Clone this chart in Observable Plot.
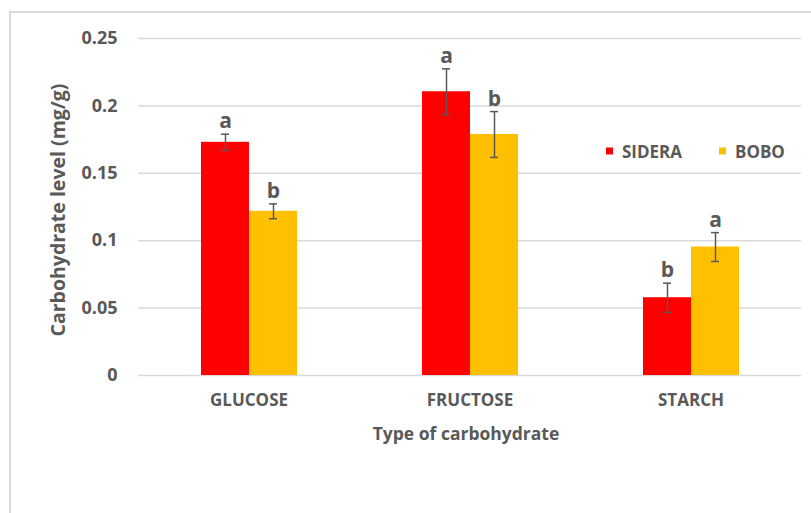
<!DOCTYPE html>
<html><head><meta charset="utf-8">
<script src="https://cdn.jsdelivr.net/npm/d3@7"></script>
<script src="https://cdn.jsdelivr.net/npm/@observablehq/plot@0.6"></script>
<style>
body{margin:0;background:#fff;font-family:"Open Sans",sans-serif;}
#wrap{position:relative;width:811px;height:513px;overflow:hidden;background:#fff;}
#frame{position:absolute;left:9px;top:11px;width:830px;height:530px;border-left:2px solid #d9d9d9;border-top:2px solid #d9d9d9;}
#chart{position:absolute;left:0;top:0;}
.t{position:absolute;color:#595959;font-weight:bold;white-space:nowrap;}
#ytitle{left:57px;top:210px;font-size:19.5px;transform:translate(-50%,-50%) rotate(-90deg);}
#xtitle{left:466px;top:433px;font-size:17.5px;transform:translate(-50%,-50%);}
.lg{position:absolute;top:151px;transform:translateY(-50%);display:flex;align-items:center;font-size:17px;font-weight:bold;color:#595959;}
.sw{width:7px;height:7px;margin-right:9px;}
</style></head>
<body>
<div id="wrap">
  <div id="frame"></div>
  <div id="chart"></div>
  <div class="t" id="ytitle">Carbohydrate level (mg/g)</div>
  <div class="t" id="xtitle">Type of carbohydrate</div>
  <div id="legend"></div>
</div>
<script>
const categories = ["GLUCOSE", "FRUCTOSE", "STARCH"];
const series = ["SIDERA", "BOBO"];
const colors = ["#FF0000", "#FFC000"];
const sideraMean = [0.173, 0.2105, 0.0577];
const sideraErr = [0.006, 0.017, 0.0108];
const boboMean = [0.1218, 0.1788, 0.0953];
const boboErr = [0.0055, 0.017, 0.0107];
const sideraLetters = ["a", "a", "b"];
const boboLetters = ["b", "b", "a"];
const yTicks = [0, 0.05, 0.1, 0.15, 0.2, 0.25];
const yTickLabels = ["0", "0.05", "0.1", "0.15", "0.2", "0.25"];
const legendLeft = [606, 719];

const rows = [];
categories.forEach((c, i) => {
  rows.push({cat: c, series: "SIDERA", mean: sideraMean[i], lo: sideraMean[i] - sideraErr[i], hi: sideraMean[i] + sideraErr[i], letter: sideraLetters[i]});
  rows.push({cat: c, series: "BOBO", mean: boboMean[i], lo: boboMean[i] - boboErr[i], hi: boboMean[i] + boboErr[i], letter: boboLetters[i]});
});

const chart = Plot.plot({
  width: 811, height: 513,
  marginLeft: 137, marginRight: 9, marginTop: 38, marginBottom: 138,
  style: {fontFamily: "'Open Sans', sans-serif", fontSize: "17px", fontWeight: "bold", color: "#595959", background: "transparent"},
  fx: {domain: categories, padding: 0, label: null, axis: "bottom", tickSize: 0, tickPadding: 18},
  x: {domain: series, paddingInner: 0, paddingOuter: 1.285, axis: null},
  y: {domain: [0, 0.25], ticks: yTicks, tickFormat: d => yTickLabels[yTicks.indexOf(d)], tickSize: 0, tickPadding: 21, label: null},
  color: {domain: series, range: colors},
  marks: [
    Plot.ruleY(yTicks, {stroke: "#d9d9d9", strokeWidth: 1.5}),
    Plot.barY(rows, {fx: "cat", x: "series", y: "mean", fill: "series"}),
    Plot.ruleX(rows, {fx: "cat", x: "series", y1: "lo", y2: "hi", stroke: "#595959", strokeWidth: 1.5}),
    Plot.tickY(rows, {fx: "cat", x: "series", y: "hi", stroke: "#595959", strokeWidth: 1.5, insetLeft: 20, insetRight: 20}),
    Plot.tickY(rows, {fx: "cat", x: "series", y: "lo", stroke: "#595959", strokeWidth: 1.5, insetLeft: 20, insetRight: 20}),
    Plot.text(rows, {fx: "cat", x: "series", y: "hi", text: "letter", dy: -6, lineAnchor: "bottom", fill: "#595959", fontSize: 21, fontWeight: "bold"})
  ]
});
document.getElementById("chart").appendChild(chart);
chart.querySelectorAll("[aria-label='y-axis tick label'] text, [aria-label='y-axis tick label']").forEach(el => el.setAttribute("font-size", "18"));

const lg = document.getElementById("legend");
series.forEach((s, i) => {
  const d = document.createElement("div");
  d.className = "lg";
  d.style.left = legendLeft[i] + "px";
  d.innerHTML = `<span class="sw" style="background:${colors[i]}"></span><span>${s}</span>`;
  lg.appendChild(d);
});
</script>
</body></html>
